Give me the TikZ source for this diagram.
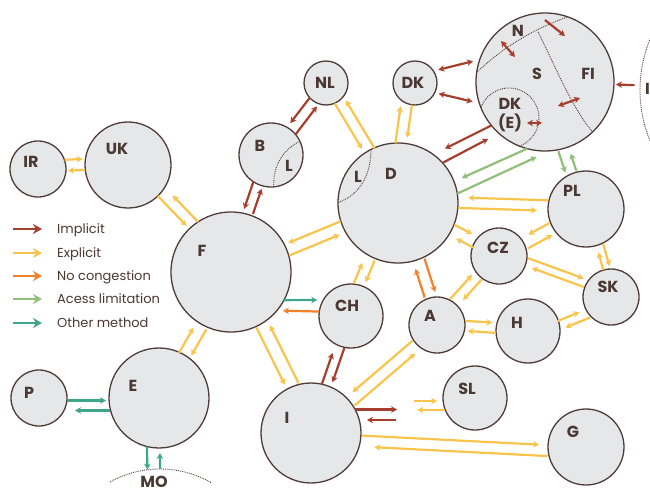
\documentclass[tikz,border=0pt]{standalone}
\usepackage{fontspec}
\setmainfont{Poppins}
\definecolor{implicit}{RGB}{166,62,46}
\definecolor{explicit}{RGB}{249,196,76}
\definecolor{nocong}{RGB}{241,130,43}
\definecolor{access}{RGB}{142,192,123}
\definecolor{othermethod}{RGB}{62,166,138}
\definecolor{land}{RGB}{230,231,232}
\definecolor{edge}{RGB}{80,60,55}
\definecolor{ink}{RGB}{74,56,51}
\usetikzlibrary{arrows.meta, calc}
\tikzset{
    city/.style={
        circle,
        draw=edge,
        fill=land,
        line width=1.3pt,
        inner sep=0pt,
        outer sep=0pt
    },
    region/.style={draw=edge, densely dotted, line width=0.9pt},
    lbl/.style={font=\fontsize{16}{19}\selectfont\bfseries, text=ink, inner sep=0pt, align=center},
    legtext/.style={font=\fontsize{13}{15}\selectfont, text=ink, anchor=west, inner sep=0pt,
        text height=11pt, text depth=3pt},
    flowline/.style={line width=2.2pt, ->},
    impl/.style={flowline, draw=implicit},
    expl/.style={flowline, draw=explicit},
    nocon/.style={flowline, draw=nocong},
    acclim/.style={flowline, draw=access},
    other/.style={flowline, draw=othermethod},
    legarrow/.style={line width=2.6pt, -{Stealth[length=9pt,width=10pt]}}
}
% one arrow of a pair: style, from, to, side offset, gap at start, gap at end
\newcommand{\flow}[6]{%
    \draw[#1, shorten <=#5pt, shorten >=#6pt] ($(#2)!#4pt!90:(#3)$) -- ($(#3)!#4pt!-90:(#2)$);}

\begin{document}
\begin{tikzpicture}[x=1pt, y=1pt, >={Stealth[length=6pt,width=6.5pt]}]
    \useasboundingbox (0,0) rectangle (650,-493);

    % countries
    \node[city, minimum size=56pt] (IR) at (38,-169) {};
    \node[city, minimum size=86pt] (UK) at (128,-165) {};
    \node[city, minimum size=120pt] (F) at (231,-272) {};
    \node[city, minimum size=64pt] (B) at (271,-155) {};
    \node[city, minimum size=44pt] (NL) at (326,-83) {};
    \node[city, minimum size=44pt] (DKs) at (415,-83) {};
    \node[city, minimum size=138pt] (NOR) at (545,-82) {};
    \node[city, minimum size=120pt] (D) at (398,-203) {};
    \node[city, minimum size=76pt] (PL) at (586,-209) {};
    \node[city, minimum size=56pt] (CZ) at (499,-256) {};
    \node[city, minimum size=56pt] (SK) at (611,-297) {};
    \node[city, minimum size=56pt] (A) at (437,-325) {};
    \node[city, minimum size=64pt] (H) at (528,-331) {};
    \node[city, minimum size=64pt] (CH) at (351,-316) {};
    \node[city, minimum size=100pt] (I) at (311,-433) {};
    \node[city, minimum size=64pt] (SL) at (475,-398) {};
    \node[city, minimum size=76pt] (G) at (586,-447) {};
    \node[city, minimum size=100pt] (E) at (159,-398) {};
    \node[city, minimum size=56pt] (P) at (39,-398) {};
    \node[circle, draw=edge, densely dotted, line width=0.9pt, minimum size=266pt, inner sep=0pt] (EXT) at (773,-90) {};
    \node[circle, minimum size=206pt, inner sep=0pt] (MO) at (160,-572) {};
    \draw[region] (MO) ++(119:103) arc[start angle=119, end angle=60, radius=103];

    % borders inside circles
    \begin{scope}
        \clip (NOR) circle (69);
        \draw[region] (476,-73) .. controls (500,-50) and (530,-30) .. (570,-16);
        \draw[region] (538,-32) .. controls (555,-65) and (570,-105) .. (594,-134);
        \draw[region] (509,-118) circle (30);
    \end{scope}
    \begin{scope}
        \clip (B) circle (32);
        \draw[region] (300,-141) .. controls (281,-151) and (272,-168) .. (274,-190);
    \end{scope}
    \begin{scope}
        \clip (D) circle (60);
        \draw[region] (371,-145) .. controls (372,-175) and (360,-195) .. (337,-203);
    \end{scope}

    % flows
    \flow{expl}{IR}{UK}{8}{27}{45}
    \flow{expl}{UK}{IR}{3}{43}{30}
    \flow{expl}{UK}{F}{0}{43}{64}
    \flow{expl}{F}{UK}{-11}{59}{53}
    \flow{impl}{B}{F}{-8}{31}{64}
    \flow{impl}{F}{B}{-2}{62}{35}
    \flow{impl}{NL}{B}{-4}{22}{37}
    \flow{impl}{B}{NL}{-7}{31}{24}
    \flow{expl}{NL}{D}{-3}{22}{65}
    \flow{expl}{D}{NL}{-8}{59}{25}
    \flow{expl}{D}{DKs}{11}{59}{25}
    \flow{expl}{DKs}{D}{0}{22}{66}
    \flow{acclim}{NOR}{PL}{-8.5}{70}{41}
    \flow{acclim}{PL}{NOR}{-2.5}{39}{76}
    \flow{expl}{PL}{D}{-7.5}{38}{70}
    \flow{expl}{D}{PL}{-3}{60}{49}
    \flow{expl}{D}{CZ}{7}{60}{34}
    \flow{expl}{CZ}{D}{4.5}{27}{68}
    \flow{nocon}{A}{D}{3.4}{30}{68}
    \flow{nocon}{D}{A}{8.3}{61}{32}
    \flow{expl}{PL}{CZ}{-5}{39}{36}
    \flow{expl}{CZ}{PL}{-7}{29}{42}
    \flow{expl}{CZ}{SK}{8}{28}{32}
    \flow{expl}{SK}{CZ}{0}{29}{35}
    \flow{expl}{PL}{SK}{7}{38}{30}
    \flow{expl}{SK}{PL}{0}{28}{45}
    \flow{expl}{H}{SK}{-2}{31}{35}
    \flow{expl}{SK}{H}{11}{27}{36}
    \flow{expl}{A}{H}{6}{28}{36}
    \flow{expl}{H}{A}{4}{32}{31}
    \flow{expl}{A}{CZ}{7.5}{28}{32}
    \flow{expl}{CZ}{A}{2.7}{29}{36}
    \flow{expl}{D}{F}{-5}{60}{64}
    \flow{expl}{F}{D}{-7}{60}{66}
    \flow{expl}{CH}{D}{10}{31}{69}
    \flow{expl}{D}{CH}{0.5}{62}{37}
    \flow{impl}{I}{CH}{5.5}{50}{41}
    \flow{impl}{CH}{I}{4}{32}{55}
    \flow{expl}{F}{I}{-2}{61}{55}
    \flow{expl}{I}{F}{-11}{50}{65}
    \flow{expl}{E}{F}{5}{49}{67}
    \flow{expl}{F}{E}{7}{62}{53}
    \flow{expl}{A}{I}{-4}{29}{58}
    \flow{expl}{I}{A}{-7.5}{51}{35}
    \flow{expl}{I}{G}{0}{51}{47}
    \flow{expl}{G}{I}{11}{38}{64}
    \flow{other}{P}{E}{-2.5}{28}{53}
    \flow{other}{E}{P}{12.5}{49}{36}

    \draw[impl, <->, shorten <=5pt, shorten >=7pt] (DKs.33) -- (NOR.161);
    \draw[impl, <->, shorten <=4pt, shorten >=7pt] (DKs.-26) -- (NOR.198);
    \draw[impl, shorten >=13pt] (NOR.219) -- (D.54);
    \draw[impl, shorten >=12pt] (D.42) -- (NOR.228);
    \draw[acclim, shorten >=8.5pt] (NOR.255) -- (D.21);
    \draw[acclim, shorten >=14.6pt] (D.9.5) -- (NOR.274);
    \draw[impl, shorten <=5pt, shorten >=2pt] (EXT) -- (NOR);
    \draw[other, shorten >=6pt] (F.-28) -- (CH.150);
    \draw[nocon, shorten >=6pt] (CH.172) -- (F.-40);
    \draw[other] (E.-104) -- (MO.97);
    \draw[other, shorten >=5pt] (MO.90) -- (E.-89);
    \draw[impl] (I.28) -- ++(42,0);
    \draw[impl] ([shift={(-79,-22)}]SL.center) -- ++(-29,0);
    \draw[expl] ([shift={(-61,-3)}]SL.center) -- ++(23,0);
    \draw[expl] (SL.202) -- ++(-28,0);

    % flows inside the nordic circle
    \draw[impl, <->] ([shift={(-44,41)}]NOR.center) -- ([shift={(-30,25)}]NOR.center);
    \draw[impl] ([shift={(0,62)}]NOR.center) -- ([shift={(20,46)}]NOR.center);
    \draw[impl, <->] ([shift={(13,-24)}]NOR.center) -- ([shift={(35,-16)}]NOR.center);
    \draw[impl, <->] ([shift={(-18,-41)}]NOR.center) -- ([shift={(-3,-41)}]NOR.center);

    % labels
    \node[lbl] (IRt) at (31,-162) {IR};
    \node[lbl] (UKt) at (117,-149) {UK};
    \node[lbl] (Ft) at (202,-251) {F};
    \node[lbl] (Bt) at (260,-146) {B};
    \node[lbl] (BLt) at (289,-166) {L};
    \node[lbl] (NLt) at (325,-83) {NL};
    \node[lbl] (DKst) at (413,-83) {DK};
    \node[lbl] (Nt) at (518,-31) {N};
    \node[lbl] (St) at (537,-74) {S};
    \node[lbl] (FIt) at (588,-74) {FI};
    \node[lbl] (DKEt) at (510,-115) {DK\\(E)};
    \node[lbl] (Dt) at (391,-174) {D};
    \node[lbl] (DLt) at (358,-177) {L};
    \node[lbl] (PLt) at (572,-191) {PL};
    \node[lbl] (CZt) at (498,-248) {CZ};
    \node[lbl] (SKt) at (608,-287) {SK};
    \node[lbl] (At) at (430,-316) {A};
    \node[lbl] (Ht) at (517,-323) {H};
    \node[lbl] (CHt) at (347,-306) {CH};
    \node[lbl] (It) at (287,-418) {I};
    \node[lbl] (SLt) at (467,-389) {SL};
    \node[lbl] (Gt) at (573,-432) {G};
    \node[lbl] (Et) at (133,-386) {E};
    \node[lbl] (Pt) at (29,-393) {P};
    \node[lbl] (MOt) at (154,-482) {MO};
    \node[lbl, anchor=west] (EXTt) at (645,-89) {I};

    % legend
    \node[legtext] (limpl) at (57,-229) {Implicit};
    \node[legtext] (lexpl) at (57,-253) {Explicit};
    \node[legtext] (lnocg) at (57,-276) {No congestion};
    \node[legtext] (lacc) at (57,-299) {Acess limitation};
    \node[legtext] (loth) at (57,-323) {Other method};
    \draw[impl, legarrow] ([xshift=-44pt]limpl.west) -- ([xshift=-15pt]limpl.west);
    \draw[expl, legarrow] ([xshift=-44pt]lexpl.west) -- ([xshift=-15pt]lexpl.west);
    \draw[nocon, legarrow] ([xshift=-44pt]lnocg.west) -- ([xshift=-15pt]lnocg.west);
    \draw[acclim, legarrow] ([xshift=-44pt]lacc.west) -- ([xshift=-15pt]lacc.west);
    \draw[other, legarrow] ([xshift=-44pt]loth.west) -- ([xshift=-15pt]loth.west);
\end{tikzpicture}
\end{document}
